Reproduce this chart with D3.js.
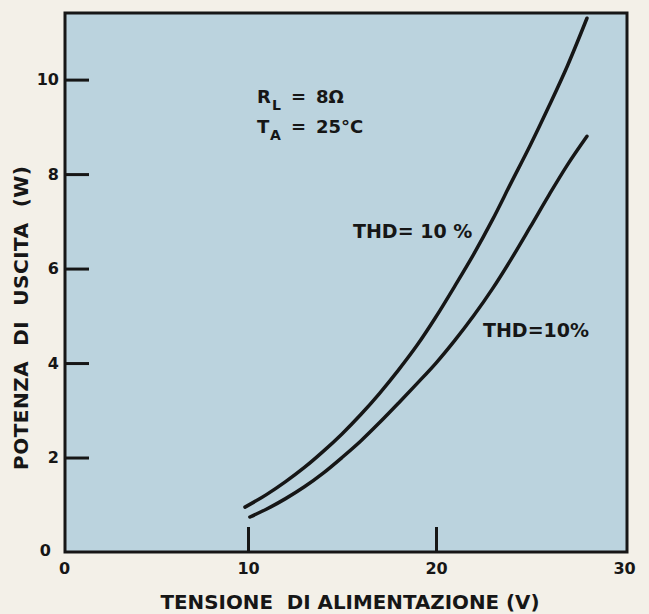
<!DOCTYPE html>
<html>
<head>
<meta charset="utf-8">
<script src="https://cdn.jsdelivr.net/npm/d3@7"></script>
<style>
  html, body { margin: 0; padding: 0; background: #f3f0e8; }
  svg { display: block; }
  text { font-family: "DejaVu Sans", "Liberation Sans", Arial, sans-serif; font-weight: bold; fill: #161616; }
</style>
</head>
<body>
<svg id="chart" width="649" height="614"></svg>
<script>
// ---- data ----
const upperVoltage = [9.84, 11, 12, 13, 14, 15, 16, 17, 18, 19, 20, 21, 22, 23, 24, 25, 26, 27, 28.03];
const upperPower   = [0.95, 1.22, 1.49, 1.79, 2.13, 2.50, 2.91, 3.36, 3.85, 4.38, 4.98, 5.63, 6.30, 7.03, 7.82, 8.60, 9.43, 10.30, 11.30];
const lowerVoltage = [10.1, 11, 12, 13, 14, 15, 16, 17, 18, 19, 20, 21, 22, 23, 24, 25, 26, 27, 28.03];
const lowerPower   = [0.74, 0.91, 1.13, 1.38, 1.67, 2.00, 2.35, 2.74, 3.15, 3.57, 4.00, 4.48, 5.00, 5.57, 6.20, 6.87, 7.55, 8.20, 8.80];
const xTickValues = [0, 10, 20, 30];
const xTickMarks  = [10, 20];
const yTickValues = [0, 2, 4, 6, 8, 10];
const xTitle = "TENSIONE  DI ALIMENTAZIONE (V)";
const yTitle = "POTENZA  DI  USCITA  (W)";
const upperLabel = "THD= 10 %";
const lowerLabel = "THD=10%";

// ---- layout ----
const frame = { left: 65, right: 627, top: 13, bottom: 552 };
const svg = d3.select("#chart");

const x = d3.scaleLinear().domain([0, 30]).range([60, 624]);
const y = d3.scaleLinear().domain([0, 11.41]).range([frame.bottom, frame.top]);

// plot background
svg.append("rect")
  .attr("x", frame.left).attr("y", frame.top)
  .attr("width", frame.right - frame.left).attr("height", frame.bottom - frame.top)
  .attr("fill", "#bbd3de");

// y axis (ticks inside)
const yAxis = d3.axisLeft(y).tickValues(yTickValues).tickFormat(d3.format("d"))
  .tickSizeInner(-24).tickSizeOuter(0).tickPadding(6);
const gy = svg.append("g").attr("transform", `translate(${frame.left},0)`).call(yAxis);
gy.select(".domain").remove();
gy.selectAll(".tick line").attr("stroke", "#161616").attr("stroke-width", 3)
  .filter(d => d === 0).remove();
gy.selectAll(".tick text").attr("font-size", 16).attr("fill", "#161616")
  .attr("font-family", "DejaVu Sans").attr("font-weight", "bold")
  .filter(d => d === 0).attr("dx", -8).attr("dy", "0.2em");

// x axis (ticks inside)
const xAxis = d3.axisBottom(x).tickValues(xTickValues).tickFormat(d3.format("d"))
  .tickSizeInner(-25).tickSizeOuter(0).tickPadding(11);
const gx = svg.append("g").attr("transform", `translate(0,${frame.bottom})`).call(xAxis);
gx.select(".domain").remove();
gx.selectAll(".tick line").attr("stroke", "#161616").attr("stroke-width", 3)
  .filter(d => !xTickMarks.includes(d)).remove();
gx.selectAll(".tick text").attr("font-size", 16).attr("fill", "#161616")
  .attr("font-family", "DejaVu Sans").attr("font-weight", "bold")
  .filter(d => d === 0).attr("dx", 4);

// frame
svg.append("rect")
  .attr("x", frame.left).attr("y", frame.top)
  .attr("width", frame.right - frame.left).attr("height", frame.bottom - frame.top)
  .attr("fill", "none").attr("stroke", "#161616").attr("stroke-width", 3);

// curves
const line = d3.line().x(d => x(d[0])).y(d => y(d[1])).curve(d3.curveMonotoneX);
const upper = upperVoltage.map((v, i) => [v, upperPower[i]]);
const lower = lowerVoltage.map((v, i) => [v, lowerPower[i]]);
[upper, lower].forEach(s => {
  svg.append("path").datum(s).attr("d", line)
    .attr("fill", "none").attr("stroke", "#161616").attr("stroke-width", 3.5)
    .attr("stroke-linecap", "round");
});

// axis titles
svg.append("text").attr("x", 350).attr("y", 609).attr("text-anchor", "middle")
  .attr("font-size", 20).attr("textLength", 379).attr("lengthAdjust", "spacingAndGlyphs")
  .style("white-space", "pre").text(xTitle);
svg.append("text").attr("transform", "translate(28,318) rotate(-90)").attr("text-anchor", "middle")
  .attr("font-size", 20).attr("textLength", 304).attr("lengthAdjust", "spacing")
  .style("white-space", "pre").text(yTitle);

// annotations
const a1 = svg.append("text").attr("font-size", 18);
a1.append("tspan").attr("x", 257).attr("y", 103).text("R");
a1.append("tspan").attr("x", 272).attr("y", 110).attr("font-size", 14).text("L");
a1.append("tspan").attr("x", 291).attr("y", 103).text("=");
a1.append("tspan").attr("x", 316).attr("y", 103).text("8Ω");
const a2 = svg.append("text").attr("font-size", 18);
a2.append("tspan").attr("x", 257).attr("y", 133).text("T");
a2.append("tspan").attr("x", 270).attr("y", 140).attr("font-size", 14).text("A");
a2.append("tspan").attr("x", 291).attr("y", 133).text("=");
a2.append("tspan").attr("x", 316).attr("y", 133).text("25°C");

svg.append("text").attr("x", 353).attr("y", 238).attr("font-size", 19).text(upperLabel);
svg.append("text").attr("x", 483).attr("y", 337).attr("font-size", 19).text(lowerLabel);
</script>
</body>
</html>
